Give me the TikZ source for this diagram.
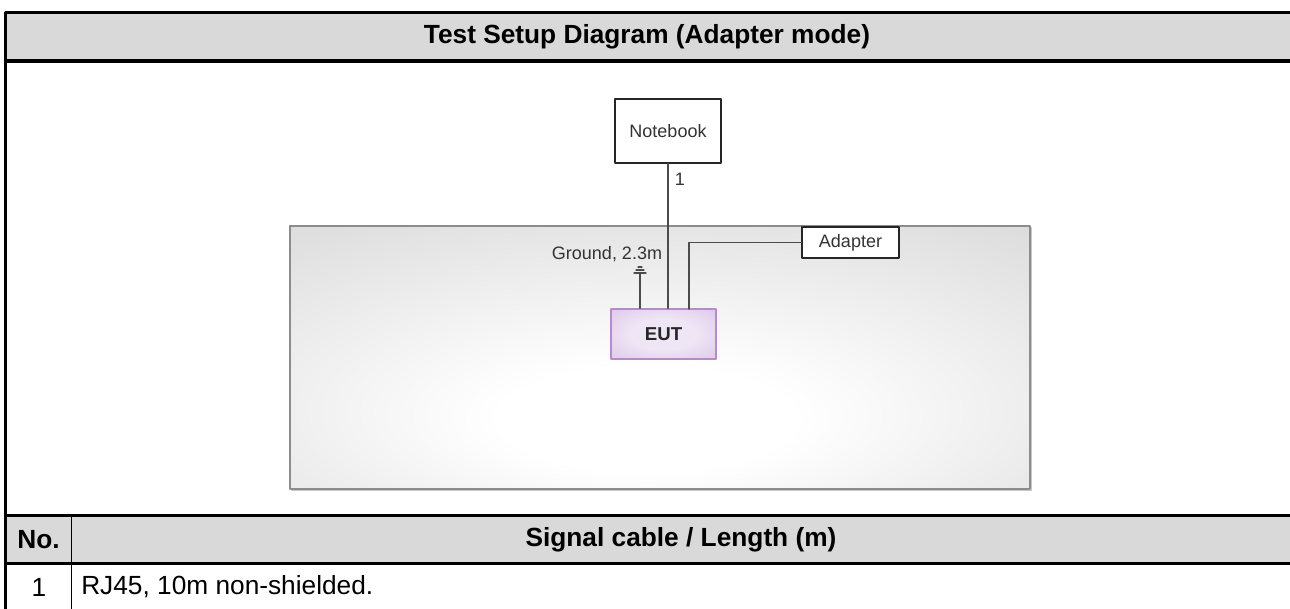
\documentclass[tikz,border=0pt]{standalone}
\usepackage{fontspec}
\setmainfont{Liberation Sans}
\usepackage{tikz}
\usetikzlibrary{positioning}

\definecolor{headgray}{HTML}{D9D9D9}
\definecolor{benchgray}{HTML}{D8D8D8}
\definecolor{eutin}{HTML}{EFE6F5}
\definecolor{eutout}{HTML}{D3B5E3}
\definecolor{eutedge}{HTML}{B889CC}
\pgfdeclareradialshading{benchglow}{\pgfpoint{-1bp}{-13bp}}{color(0bp)=(white); color(10bp)=(white); color(45bp)=(benchgray); color(100bp)=(benchgray)}
\pgfdeclareradialshading{eutglow}{\pgfpoint{0bp}{0bp}}{color(0bp)=(eutin); color(15bp)=(eutin); color(50bp)=(eutout); color(100bp)=(eutout)}

\begin{document}
\begin{tikzpicture}[line cap=round,line join=round,x=0.75pt,y=-0.75pt,
    tablehead/.style={font=\bfseries\fontsize{19.7}{23}\selectfont},
    tablecell/.style={font=\fontsize{19.7}{23}\selectfont},
    devbox/.style={draw=black!85,line width=0.9pt,fill=white,inner sep=0pt,
      font=\fontsize{13.5}{16}\selectfont,text=black!80},
    lbltext/.style={font=\fontsize{13.5}{16}\selectfont,text=black!80,inner sep=0pt},
    cable/.style={draw=black!70,line width=1.1pt},
    tablerule/.style={line width=2.4pt}]
        \useasboundingbox (0,0) rectangle (1290,608);
        % table frame
        \fill [headgray] (5.5,12.5) rectangle (1290,61);
        \fill [headgray] (5.5,515.5) rectangle (1290,563.5);
        \draw [tablerule] (1295,12.5) -- (5.5,12.5) -- (5.5,612);
        \draw [tablerule] (5.5,61) -- (1295,61);
        \draw [tablerule] (5.5,515.5) -- (1295,515.5);
        \draw [tablerule] (5.5,563.5) -- (1295,563.5);
        \draw [line width=1pt] (71.5,515.5) -- (71.5,612);
        \node [tablehead] (title) at (647,37) {Test Setup Diagram (Adapter mode)};
        \node [tablehead] (nohead) at (38.5,540) {No.};
        \node [tablehead] (cablehead) at (681,540) {Signal cable / Length (m)};
        \node [tablecell] (rowno) at (39,587) {1};
        \node [tablecell,anchor=west,inner sep=0pt] (rowcable) at (81,587) {RJ45, 10m non-shielded.};
        % test bench
        \draw [black!22,line width=1.2pt] (292,490.5) -- (1031.5,490.5) -- (1031.5,228);
        \shade [shading=benchglow] (290,226) rectangle (1030,489);
        \draw [black!45,line width=0.8pt] (290,226) rectangle (1030,489);
        % devices
        \node [devbox,minimum width=79.5pt,minimum height=48pt] (nb) at (668,131) {Notebook};
        \node [devbox,minimum width=72.75pt,minimum height=23.25pt] (ad) at (850.5,242.5) {Adapter};
        \node [draw=eutedge,line width=1.2pt,shading=eutglow,inner sep=0pt,
          minimum width=78.75pt,minimum height=37.5pt,
          font=\bfseries\fontsize{14}{16}\selectfont,text=black!85] (eut) at (663.5,334) {EUT};
        % cables
        \coordinate (adin) at (689,309);
        \coordinate (gnd) at (640,273);
        \draw [cable] (nb.south) -- (nb.south |- eut.north);
        \draw [cable] (ad.west) -| (adin);
        \draw [cable] (gnd |- eut.north) -- (gnd);
        \draw [cable,line width=0.9pt] (634,273) -- (646,273) (636,270) -- (644,270) (638,267) -- (642,267);
        \node [lbltext] (cablenum) at (680,179) {1};
        \node [lbltext] (gndlbl) at (607,254) {Ground, 2.3m};
\end{tikzpicture}
\end{document}
